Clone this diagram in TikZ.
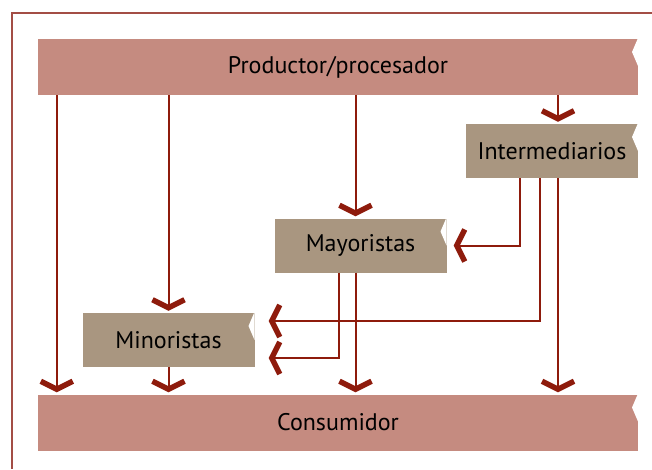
\documentclass[tikz,border=0pt]{standalone}
\usepackage{fontspec}
\setmainfont{PT Sans}
\usetikzlibrary{arrows.meta}
\usetikzlibrary{positioning}

\definecolor{barfill}{HTML}{C58B80}
\definecolor{boxfill}{HTML}{A99680}
\definecolor{flowred}{HTML}{8E1B0C}
\definecolor{framered}{HTML}{A34D45}

\tikzset{
  chev/.tip={Straight Barb[length=8pt,width=32pt,line width=5.5pt]},
  notch/.style={path picture={
      \fill[white] (path picture bounding box.north east) ++(0,1pt)
        -- ++(-6pt,-14pt) -- ++(6pt,-14pt) -- cycle;}},
  bar/.style={fill=barfill, minimum width=600pt, minimum height=56pt,
    inner sep=0pt, font=\fontsize{24}{28}\selectfont, notch},
  agent/.style={fill=boxfill, minimum width=172pt, minimum height=54pt,
    inner sep=0pt, font=\fontsize{24}{28}\selectfont, notch},
  flow/.style={draw=flowred, line width=2pt, -chev, shorten >=2pt},
}

\begin{document}
\begin{tikzpicture}[x=1pt,y=-1pt]
  \useasboundingbox (0,0) rectangle (652,469);
  % frame
  \draw[framered, line width=1.5pt] (652,13) -- (12,13) -- (12,469);

  % nodes
  \node[bar] (prod) at (338,67) {Productor/procesador};
  \node[bar] (cons) at (338,422.5) {Consumidor};
  \node[agent] (inter) at (552,151) {Intermediarios};
  \node[agent] (mayor) at (360.5,245.5) {Mayoristas};
  \node[agent] (minor) at (168.5,340) {Minoristas};

  % from productor
  \draw[flow] ([xshift=19pt]prod.south west) -- ([xshift=19pt]cons.north west);
  \draw[flow] (minor.north |- prod.south) -- (minor.north);
  \draw[flow] ([xshift=-5pt]mayor.north |- prod.south) -- ([xshift=-5pt]mayor.north);
  \draw[flow] ([xshift=6pt]inter.north |- prod.south) -- ([xshift=6pt]inter.north);

  % from intermediarios
  \draw[flow, shorten >=7pt] ([xshift=-32pt]inter.south) |- (mayor.east);
  \draw[flow, shorten >=14pt] ([xshift=-12pt]inter.south) |- ([yshift=19pt]minor.east);
  \draw[flow] ([xshift=6pt]inter.south) -- ([xshift=6pt]inter.south |- cons.north);

  % from mayoristas
  \draw[flow, shorten >=14pt] ([xshift=-22pt]mayor.south) |- ([yshift=-18pt]minor.east);
  \draw[flow] ([xshift=-5pt]mayor.south) -- ([xshift=-5pt]mayor.south |- cons.north);

  % from minoristas
  \draw[flow] (minor.south) -- (minor.south |- cons.north);
\end{tikzpicture}
\end{document}
